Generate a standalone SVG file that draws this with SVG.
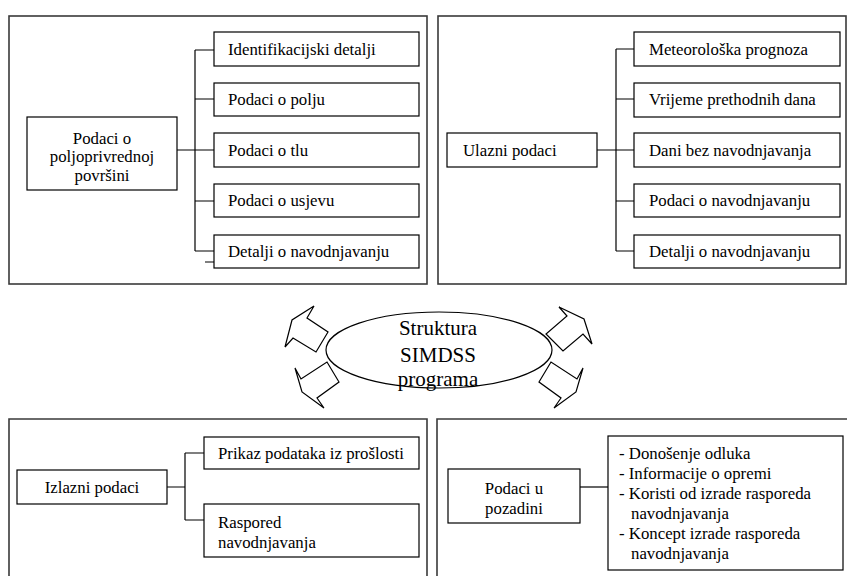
<svg xmlns="http://www.w3.org/2000/svg" width="848" height="576" viewBox="0 0 848 576" font-family="'Liberation Serif', Tinos, 'Times New Roman', 'DejaVu Serif', serif">
  <style>
    .panel { fill: none; stroke: #3a3a3a; stroke-width: 1.6; }
    .box { fill: #ffffff; stroke: #000000; stroke-width: 1.2; }
    .wire { fill: none; stroke: #000000; stroke-width: 1.2; }
    .arrow { fill: #ffffff; stroke: #000000; stroke-width: 1.2; stroke-linejoin: miter; }
    text { font-family: 'Liberation Serif', Tinos, 'Times New Roman', 'DejaVu Serif', serif; font-size: 16.8px; fill: #000000; }
    .mid { text-anchor: middle; }
    .title { font-size: 21px; }
  </style>

  <!-- panels -->
  <g id="panels">
    <rect class="panel" x="9" y="16" width="418" height="268"/>
    <rect class="panel" x="438" y="16" width="408" height="268"/>
    <path class="panel" d="M9,580 V419 H427 V580"/>
    <path class="panel" d="M437,580 V419 H847"/>
  </g>

  <!-- connectors -->
  <g id="connectors">
    <path class="wire" d="M177,150 H195 M195,50 V251 M195,50 H214 M195,99 H214 M195,150 H214 M195,201 H214 M195,251 H214 M205,262 H214"/>
    <path class="wire" d="M597,150 H616 M616,49 V251 M616,49 H634 M616,99 H634 M616,150 H634 M616,201 H634 M616,251 H634"/>
    <path class="wire" d="M167,487 H185 M185,453 V520 M185,453 H204 M185,520 H204"/>
    <path class="wire" d="M580,487 H608"/>
  </g>

  <!-- top-left: farm area data -->
  <g id="node-povrsina">
    <rect class="box" x="27" y="117" width="150" height="73"/>
    <text class="mid" x="102" y="143.5">Podaci o</text>
    <text class="mid" x="102" y="162">poljoprivrednoj</text>
    <text class="mid" x="102" y="180.5">površini</text>
  </g>
  <g id="node-identifikacijski">
    <rect class="box" x="214" y="32" width="205" height="34"/>
    <text x="228" y="54.5">Identifikacijski detalji</text>
  </g>
  <g id="node-polje">
    <rect class="box" x="214" y="83" width="205" height="33"/>
    <text x="228" y="105">Podaci o polju</text>
  </g>
  <g id="node-tlo">
    <rect class="box" x="214" y="133" width="205" height="34"/>
    <text x="228" y="155.5">Podaci o tlu</text>
  </g>
  <g id="node-usjev">
    <rect class="box" x="214" y="184" width="205" height="33"/>
    <text x="228" y="206">Podaci o usjevu</text>
  </g>
  <g id="node-detalji-l">
    <rect class="box" x="214" y="235" width="205" height="33"/>
    <text x="228" y="257">Detalji o navodnjavanju</text>
  </g>

  <!-- top-right: input data -->
  <g id="node-ulazni">
    <rect class="box" x="447" y="133" width="150" height="34"/>
    <text x="463" y="155.5">Ulazni podaci</text>
  </g>
  <g id="node-meteo">
    <rect class="box" x="634" y="32" width="206" height="34"/>
    <text x="649" y="54.5">Meteorološka prognoza</text>
  </g>
  <g id="node-vrijeme">
    <rect class="box" x="634" y="83" width="206" height="34"/>
    <text x="649" y="105">Vrijeme prethodnih dana</text>
  </g>
  <g id="node-dani">
    <rect class="box" x="634" y="133" width="206" height="34"/>
    <text x="649" y="155.5">Dani bez navodnjavanja</text>
  </g>
  <g id="node-podaci-nav">
    <rect class="box" x="634" y="184" width="206" height="33"/>
    <text x="649" y="206">Podaci o navodnjavanju</text>
  </g>
  <g id="node-detalji-r">
    <rect class="box" x="634" y="235" width="206" height="33"/>
    <text x="649" y="257">Detalji o navodnjavanju</text>
  </g>

  <!-- centre: programme structure with outward block arrows -->
  <g id="node-struktura">
    <polygon class="arrow" points="314,306 307,318 328,332 316,352 293,338 285,347 292,320"/>
    <polygon class="arrow" points="295,368 301,379 327,362 339,382 317,398 324,408 302,392"/>
    <polygon class="arrow" points="559,307 567,316 546,334 563,351 583,334 592,344 584,319"/>
    <polygon class="arrow" points="583,368 577,379 551,362 539,382 561,398 554,408 576,392"/>
    <ellipse cx="439" cy="350" rx="113" ry="38" fill="none" stroke="#000" stroke-width="1.2"/>
    <text class="mid title" x="438" y="335">Struktura</text>
    <text class="mid title" x="438" y="361.5">SIMDSS</text>
    <text class="mid title" x="438" y="386">programa</text>
  </g>

  <!-- bottom-left: output data -->
  <g id="node-izlazni">
    <rect class="box" x="17" y="470" width="150" height="34"/>
    <text class="mid" x="92" y="492.5">Izlazni podaci</text>
  </g>
  <g id="node-prikaz">
    <rect class="box" x="204" y="437" width="215" height="32"/>
    <text x="218" y="458.5">Prikaz podataka iz prošlosti</text>
  </g>
  <g id="node-raspored">
    <rect class="box" x="204" y="504" width="215" height="53"/>
    <text x="218" y="527.5">Raspored</text>
    <text x="218" y="547.5">navodnjavanja</text>
  </g>

  <!-- bottom-right: background data -->
  <g id="node-pozadina">
    <rect class="box" x="448" y="469" width="132" height="54"/>
    <text class="mid" x="514" y="493.5">Podaci u</text>
    <text class="mid" x="514" y="513.5">pozadini</text>
  </g>
  <g id="node-pozadina-lista">
    <rect class="box" x="608" y="436" width="235" height="134"/>
    <text x="619" y="458.5">- Donošenje odluka</text>
    <text x="619" y="478.5">- Informacije o opremi</text>
    <text x="619" y="498.5">- Koristi od izrade rasporeda</text>
    <text x="631" y="518.5">navodnjavanja</text>
    <text x="619" y="538.5">- Koncept izrade rasporeda</text>
    <text x="631" y="558.5">navodnjavanja</text>
  </g>
</svg>
